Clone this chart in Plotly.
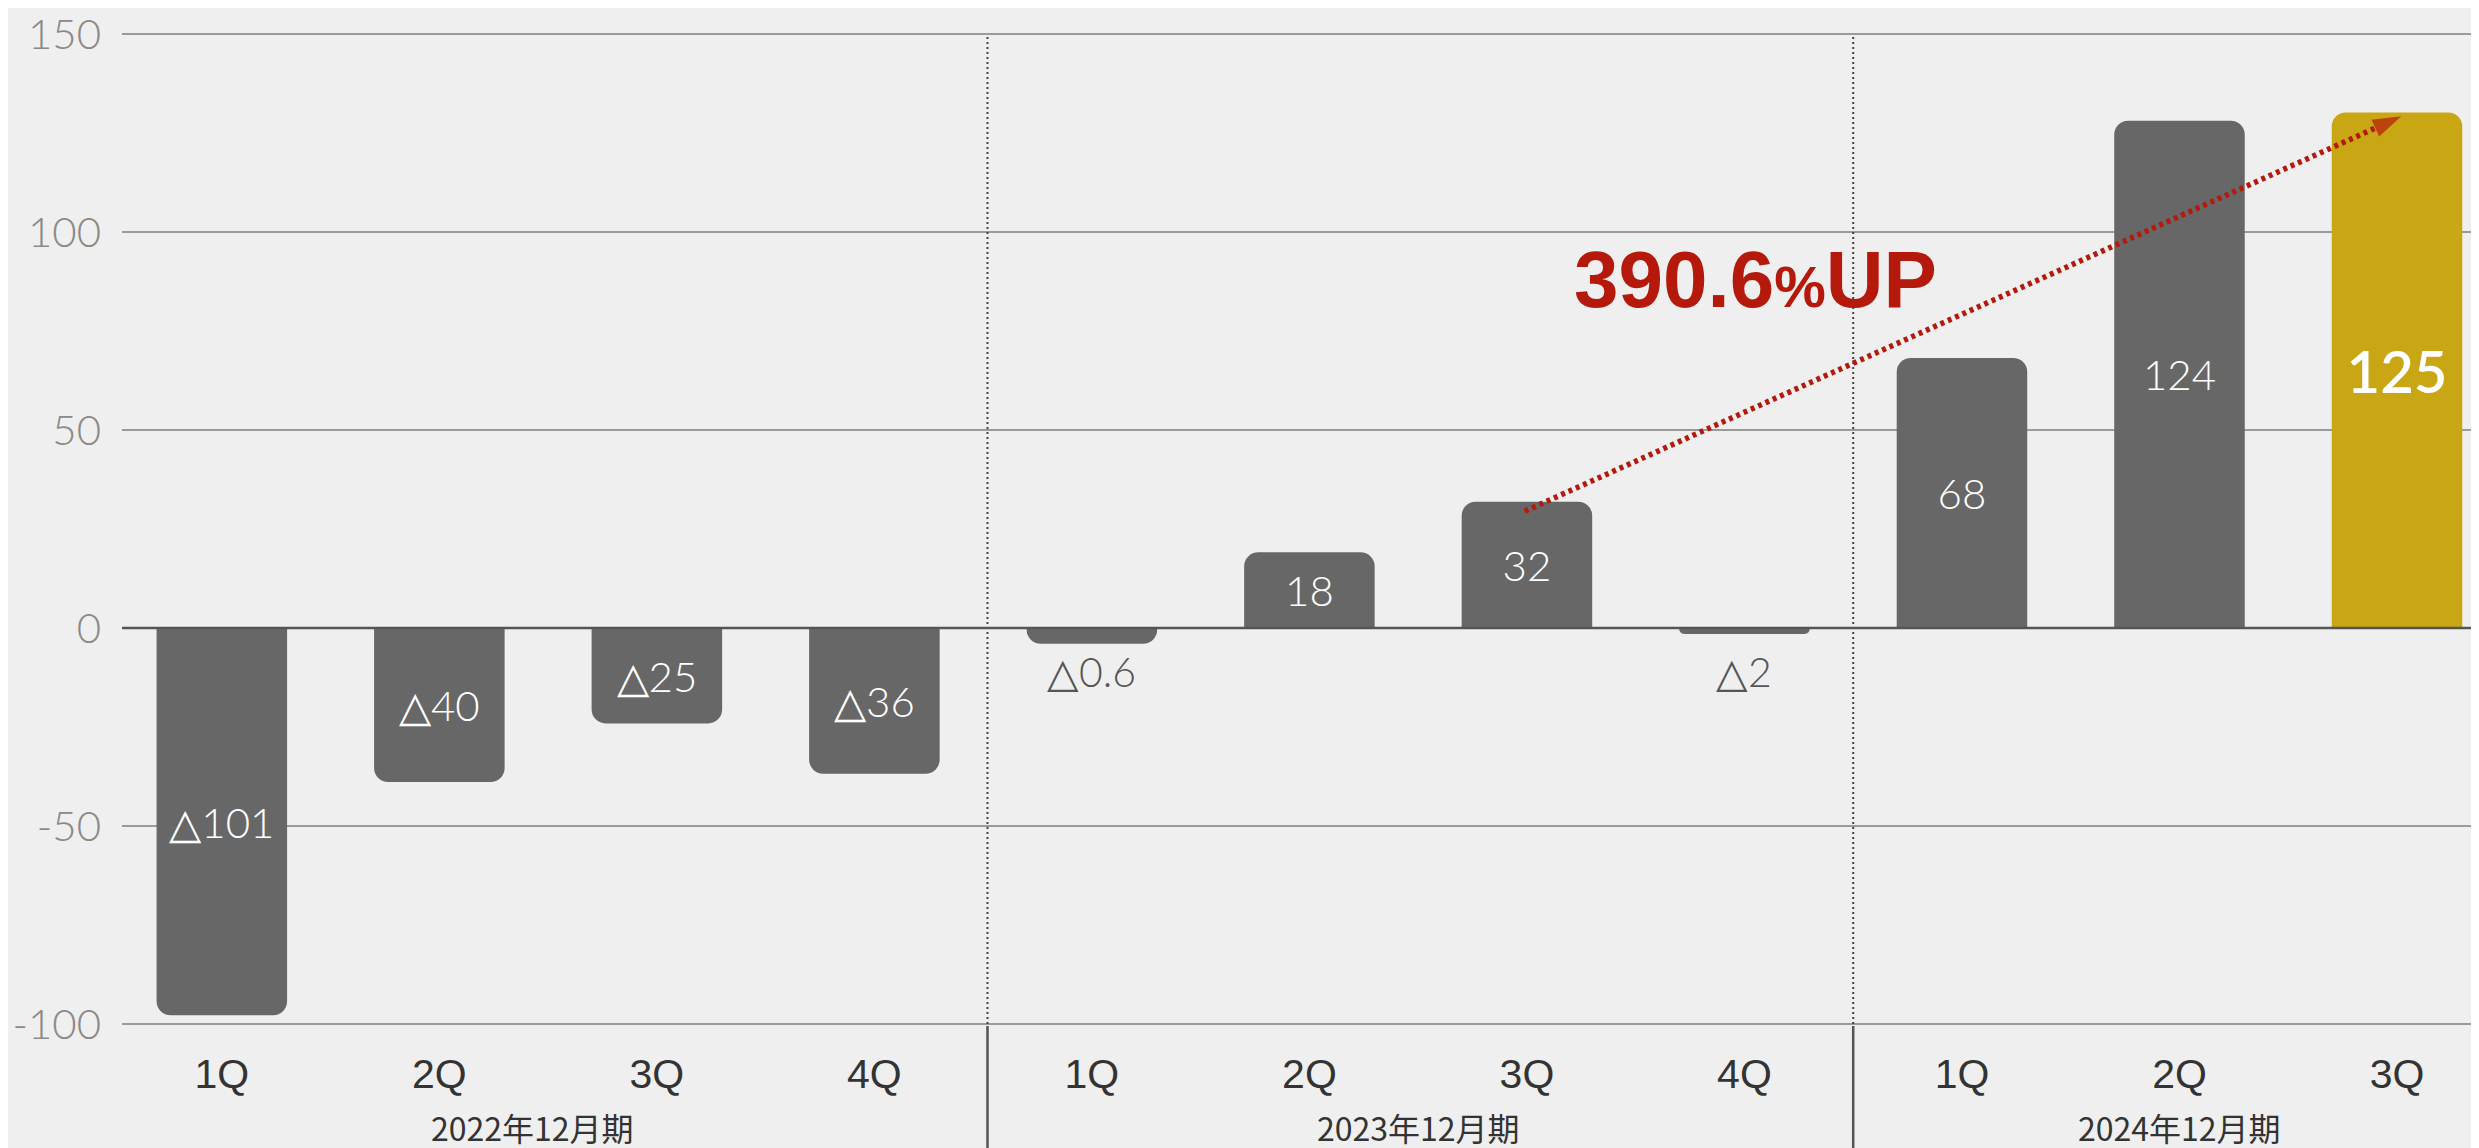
import plotly.graph_objects as go

# ---- data ----
quarters = ["1Q", "2Q", "3Q", "4Q", "1Q", "2Q", "3Q", "4Q", "1Q", "2Q", "3Q"]
periods = ["2022年12月期", "2023年12月期", "2024年12月期"]
period_centers = [1.43, 5.5, 9.0]
bar_heights = [-97.8, -38.9, -24.1, -36.8, -4.0, 19.1, 31.9, -1.5, 68.2, 128.1, 130.2]
bar_labels = ["△101", "△40", "△25", "△36", "△0.6", "18", "32", "△2", "68", "124", "125"]
label_inside = [True, True, True, True, False, True, True, False, True, True, True]
highlight = [False] * 10 + [True]
outside_label_y = -11
divider_positions = [3.52, 7.5]
growth_text = "390.6<span style='font-size:58px'>%</span>UP"
growth_pos = (7.05, 88.0)
arrow_x = [5.99, 10.02]
arrow_y = [29.5, 129.2]
y_ticks = [-100, -50, 0, 50, 100, 150]
y_tick_text = ["-100", "-50", "0", "50", "100", "150"]

GRAY = "#666766"
GOLD = "#c9a614"
RED = "#b5190c"
BG = "#efefef"

idx = list(range(len(quarters)))
colors = [GOLD if h else GRAY for h in highlight]
texts = [t if ins else "" for t, ins in zip(bar_labels, label_inside)]
tsize = [58 if h else 42 for h in highlight]
tweight = [600 if h else 300 for h in highlight]

fig = go.Figure()
fig.add_trace(go.Bar(
    x=idx, y=bar_heights, width=0.6,
    marker=dict(color=colors, line=dict(width=0)),
    text=texts, textposition="inside", insidetextanchor="middle",
    textfont=dict(family="Lato, DejaVu Sans", size=tsize, color="white", weight=tweight),
    constraintext="none", cliponaxis=False, hoverinfo="skip",
))

# dotted growth arrow with arrowhead marker at the tip
fig.add_trace(go.Scatter(
    x=arrow_x, y=arrow_y, mode="lines+markers",
    line=dict(color=RED, width=5.5, dash="4px,4px"),
    marker=dict(symbol=["circle", "arrow"], size=[0, 30], color=RED,
                angleref="previous", line=dict(width=0)),
    hoverinfo="skip", showlegend=False, cliponaxis=False,
))

annotations = []
annotations.append(dict(
    x=growth_pos[0], y=growth_pos[1], xref="x", yref="y", text="<b>" + growth_text + "</b>",
    showarrow=False, font=dict(family="Liberation Sans, Arial", size=80, color=RED),
    xanchor="center", yanchor="middle",
))
for i, (t, ins) in enumerate(zip(bar_labels, label_inside)):
    if not ins:
        annotations.append(dict(
            x=i, y=outside_label_y, xref="x", yref="y", text=t, showarrow=False,
            font=dict(family="Lato, DejaVu Sans", size=41, color="#555555", weight=300),
            xanchor="center", yanchor="middle",
        ))
for p, c in zip(periods, period_centers):
    annotations.append(dict(
        x=c, y=-0.102, xref="x", yref="paper", text=p, showarrow=False,
        font=dict(family="Noto Sans CJK JP", size=32, color="#333333"),
        xanchor="center", yanchor="middle",
    ))

shapes = []
for d in divider_positions:
    shapes.append(dict(type="line", xref="x", yref="y", x0=d, x1=d, y0=-100, y1=150,
                       line=dict(color="#444444", width=2, dash="2px,3px"), layer="above"))
    shapes.append(dict(type="line", xref="x", yref="paper", x0=d, x1=d, y0=0, y1=-0.13,
                       line=dict(color="#555555", width=2.5)))
# zero line
shapes.append(dict(type="line", xref="paper", yref="y", x0=0, x1=1, y0=0, y1=0,
                   line=dict(color="#555555", width=2.5), layer="above"))

# page body has an 8px margin, so the figure is shifted by 8px; compensate
fig.update_layout(
    width=2471, height=1140,
    margin=dict(l=114, r=0, t=22, b=122),
    paper_bgcolor=BG, plot_bgcolor=BG,
    showlegend=False, barcornerradius=14,
    annotations=annotations, shapes=shapes,
    xaxis=dict(
        range=[-0.459, 10.377], tickmode="array", tickvals=idx, ticktext=quarters,
        showgrid=False, zeroline=False, showline=False, ticks="",
        tickfont=dict(family="Liberation Sans Narrow, Liberation Sans", size=41, color="#333333"),
        ticklabelstandoff=20, fixedrange=True,
    ),
    yaxis=dict(
        range=[-100.5, 150.5], tickmode="array", tickvals=y_ticks, ticktext=y_tick_text,
        showgrid=True, gridcolor="#9a9a9a", gridwidth=1.5,
        zeroline=False, showline=False, ticks="",
        tickfont=dict(family="Lato", size=42, color="#8a8a8a", weight=300),
        ticklabelstandoff=20, ticklabeloverflow="allow", fixedrange=True,
    ),
)

fig.write_html("out.html")
